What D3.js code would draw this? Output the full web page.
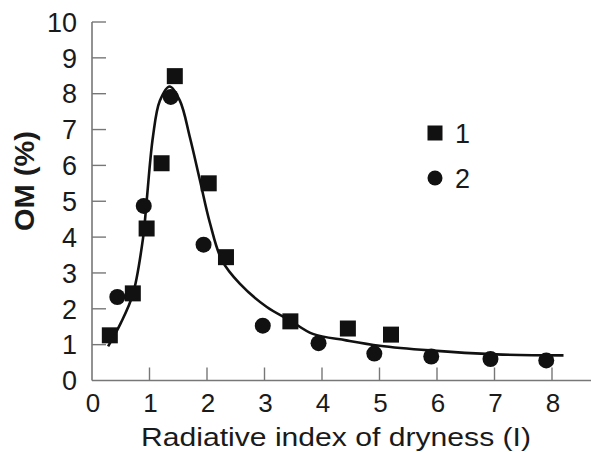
<!DOCTYPE html>
<html>
<head>
<meta charset="utf-8">
<script src="https://cdn.jsdelivr.net/npm/d3@7"></script>
<style>
  body { margin: 0; background: #fff; }
  svg { display: block; font-family: "Liberation Sans", Arial, sans-serif; }
</style>
</head>
<body>
<svg id="chart"></svg>
<script>
// series 1 (squares)
const s1X = [0.31, 0.71, 0.95, 1.21, 1.44, 2.03, 2.33, 3.45, 4.45, 5.2];
const s1Y = [1.26, 2.43, 4.24, 6.06, 8.49, 5.5, 3.44, 1.65, 1.45, 1.28];
// series 2 (circles)
const s2X = [0.44, 0.9, 1.37, 1.94, 2.97, 3.94, 4.91, 5.9, 6.93, 7.9];
const s2Y = [2.33, 4.87, 7.91, 3.79, 1.53, 1.04, 0.75, 0.67, 0.6, 0.56];
// fitted curve
const fitX = [0.28, 0.5, 0.71, 0.89, 0.95, 1.06, 1.18, 1.35, 1.53, 1.7, 1.875, 2.05, 2.26, 2.57, 3.04, 3.44, 3.84, 4.42, 5.0, 5.87, 7.03, 8.2];
const fitY = [0.95, 1.6, 2.4, 4.0, 5.0, 6.8, 7.8, 8.2, 7.8, 6.8, 5.6, 4.4, 3.35, 2.7, 2.05, 1.68, 1.3, 1.12, 0.97, 0.84, 0.73, 0.7];

const xTicks = [0, 1, 2, 3, 4, 5, 6, 7, 8];
const yTicks = [0, 1, 2, 3, 4, 5, 6, 7, 8, 9, 10];
const legendLabels = ["1", "2"];

const width = 591, height = 452;
const margin = { top: 22, right: 0, bottom: 72, left: 92 };

const svg = d3.select("#chart").attr("width", width).attr("height", height);

const x = d3.scaleLinear().domain([0, 8]).range([margin.left, 552]);
const y = d3.scaleLinear().domain([0, 10]).range([height - margin.bottom + 0.5, margin.top]);

const axisColor = "#777";
const textColor = "#1a1a1a";

// axes lines
svg.append("line")
  .attr("x1", margin.left).attr("x2", width)
  .attr("y1", y(0)).attr("y2", y(0))
  .attr("stroke", axisColor).attr("stroke-width", 1.6);
svg.append("line")
  .attr("x1", margin.left).attr("x2", margin.left)
  .attr("y1", y(0)).attr("y2", y(10))
  .attr("stroke", axisColor).attr("stroke-width", 1.6);

// y ticks (pointing inward)
svg.append("g").selectAll("line")
  .data(yTicks.filter(d => d > 0))
  .join("line")
  .attr("x1", margin.left).attr("x2", margin.left + 14)
  .attr("y1", d => y(d)).attr("y2", d => y(d))
  .attr("stroke", axisColor).attr("stroke-width", 1.4);

svg.append("g").selectAll("text")
  .data(yTicks)
  .join("text")
  .attr("x", 77)
  .attr("y", d => y(d))
  .attr("dy", "0.36em")
  .attr("text-anchor", "end")
  .attr("font-size", 27)
  .attr("fill", textColor)
  .text(d => d);

// x ticks (pointing up)
svg.append("g").selectAll("line")
  .data(xTicks.filter(d => d > 0))
  .join("line")
  .attr("x1", d => x(d)).attr("x2", d => x(d))
  .attr("y1", y(0)).attr("y2", y(0) - 13)
  .attr("stroke", axisColor).attr("stroke-width", 1.4);

svg.append("g").selectAll("text")
  .data(xTicks)
  .join("text")
  .attr("x", d => x(d) + 1)
  .attr("y", 412)
  .attr("text-anchor", "middle")
  .attr("font-size", 26)
  .attr("fill", textColor)
  .text(d => d);

// axis titles
svg.append("text")
  .attr("x", 336).attr("y", 446)
  .attr("text-anchor", "middle")
  .attr("font-size", 26)
  .attr("textLength", 390)
  .attr("lengthAdjust", "spacingAndGlyphs")
  .attr("fill", textColor)
  .text("Radiative index of dryness (I)");

svg.append("text")
  .attr("transform", `translate(34, 181) rotate(-90)`)
  .attr("text-anchor", "middle")
  .attr("font-size", 27)
  .attr("font-weight", "bold")
  .attr("textLength", 100)
  .attr("lengthAdjust", "spacingAndGlyphs")
  .attr("fill", textColor)
  .text("OM (%)");

// fitted curve
const line = d3.line()
  .x(d => x(d[0]))
  .y(d => y(d[1]))
  .curve(d3.curveCatmullRom.alpha(0.5));

svg.append("path")
  .datum(fitX.map((v, i) => [v, fitY[i]]))
  .attr("fill", "none")
  .attr("stroke", "#111")
  .attr("stroke-width", 2.6)
  .attr("d", line);

// markers
const sq = 16;
svg.append("g").selectAll("rect")
  .data(s1X.map((v, i) => [v, s1Y[i]]))
  .join("rect")
  .attr("x", d => x(d[0]) - sq / 2)
  .attr("y", d => y(d[1]) - sq / 2)
  .attr("width", sq).attr("height", sq)
  .attr("fill", "#111");

svg.append("g").selectAll("circle")
  .data(s2X.map((v, i) => [v, s2Y[i]]))
  .join("circle")
  .attr("cx", d => x(d[0]))
  .attr("cy", d => y(d[1]))
  .attr("r", 8)
  .attr("fill", "#111");

// legend
const legend = svg.append("g").attr("transform", "translate(435, 133)");
legend.append("rect")
  .attr("x", -7.5).attr("y", -7.5).attr("width", 15).attr("height", 15)
  .attr("fill", "#111");
legend.append("circle")
  .attr("cx", 0).attr("cy", 45).attr("r", 7.5)
  .attr("fill", "#111");
legend.selectAll("text")
  .data(legendLabels)
  .join("text")
  .attr("x", 20)
  .attr("y", (d, i) => i * 45)
  .attr("dy", "0.36em")
  .attr("font-size", 27)
  .attr("fill", textColor)
  .text(d => d);
</script>
</body>
</html>
